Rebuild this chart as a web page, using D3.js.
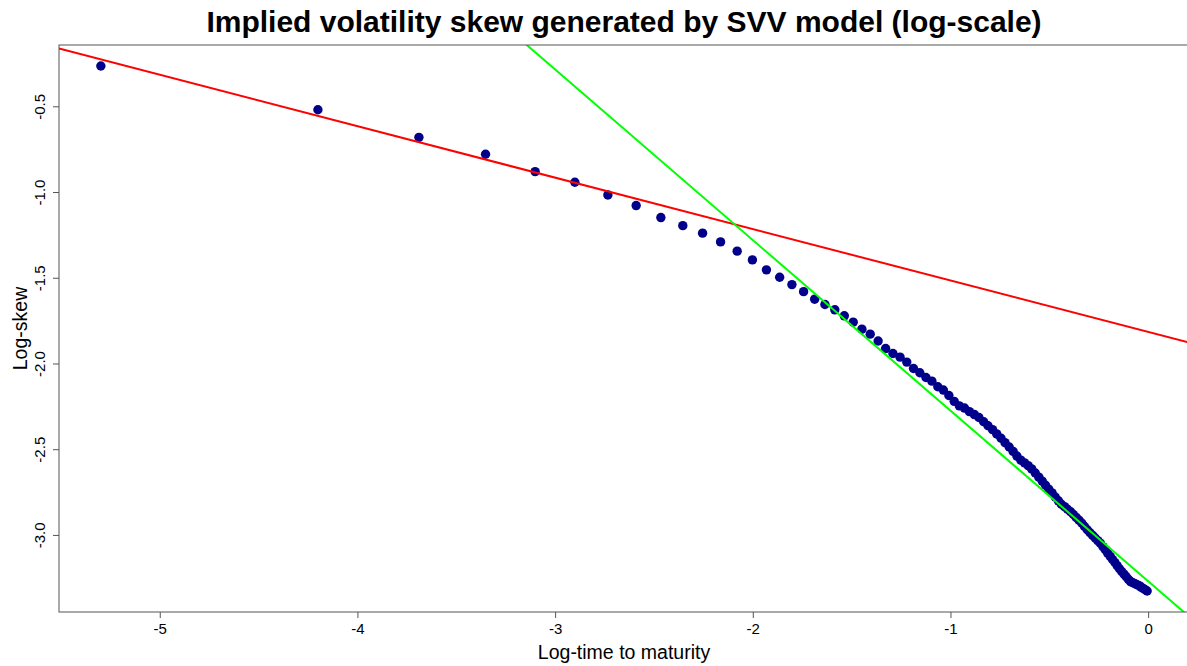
<!DOCTYPE html>
<html>
<head>
<meta charset="utf-8">
<script src="https://cdn.jsdelivr.net/npm/d3@7"></script>
<style>
  body { margin: 0; background: #fff; }
  svg { display: block; font-family: "Liberation Sans", Arial, sans-serif; }
</style>
</head>
<body>
<div id="chart"></div>
<script>
// chart data
const logTime = [
  -5.298, -4.200, -3.689, -3.352, -3.101, -2.900, -2.733, -2.590, -2.465, -2.354,
  -2.254, -2.163, -2.079, -2.002, -1.931, -1.864, -1.802, -1.743, -1.687, -1.635,
  -1.585, -1.537, -1.492, -1.448, -1.406, -1.366, -1.328, -1.291, -1.255, -1.221,
  -1.187, -1.155, -1.124, -1.094, -1.064, -1.036, -1.008, -0.981, -0.955, -0.929,
  -0.904, -0.879, -0.856, -0.832, -0.810, -0.787, -0.766, -0.744, -0.724, -0.703,
  -0.683, -0.664, -0.644, -0.625, -0.607, -0.589, -0.571, -0.553, -0.536, -0.519,
  -0.503, -0.486, -0.470, -0.454, -0.439, -0.423, -0.408, -0.393, -0.378, -0.364,
  -0.350, -0.335, -0.322, -0.308, -0.294, -0.281, -0.268, -0.255, -0.242, -0.229,
  -0.217, -0.205, -0.192, -0.180, -0.168, -0.157, -0.145, -0.134, -0.122, -0.111,
  -0.100, -0.089, -0.078, -0.067, -0.057, -0.046, -0.036, -0.025, -0.015, -0.005
];
const logSkew = [
  -0.265, -0.520, -0.681, -0.780, -0.881, -0.943, -1.017, -1.079, -1.149, -1.196,
  -1.240, -1.291, -1.345, -1.396, -1.454, -1.497, -1.540, -1.581, -1.625, -1.656,
  -1.687, -1.722, -1.759, -1.800, -1.829, -1.869, -1.913, -1.942, -1.963, -1.992,
  -2.029, -2.054, -2.082, -2.103, -2.136, -2.155, -2.187, -2.221, -2.247, -2.260,
  -2.281, -2.298, -2.315, -2.340, -2.363, -2.386, -2.411, -2.436, -2.462, -2.487,
  -2.513, -2.540, -2.564, -2.580, -2.596, -2.615, -2.639, -2.663, -2.686, -2.710,
  -2.733, -2.755, -2.779, -2.801, -2.821, -2.835, -2.850, -2.864, -2.881, -2.898,
  -2.914, -2.932, -2.951, -2.970, -2.987, -3.003, -3.018, -3.033, -3.048, -3.068,
  -3.086, -3.106, -3.125, -3.143, -3.161, -3.179, -3.197, -3.213, -3.229, -3.244,
  -3.259, -3.272, -3.278, -3.284, -3.290, -3.296, -3.304, -3.312, -3.320, -3.327
];
// fitted lines: [intercept, slope]
const shortFit = [-1.816, -0.300];
const longFit = [-3.270, -0.995];
const xTicks = [-5, -4, -3, -2, -1, 0];
const yTicks = [-0.5, -1.0, -1.5, -2.0, -2.5, -3.0];

const width = 1187;
const height = 666;
const margin = { top: 45, left: 59 };
const plotRight = 1189;
const plotBottom = 612;

const points = logTime.map((t, i) => ({ x: t, y: logSkew[i] }));

// R-style 4% padding on the data range
function pad(ext) {
  const d = (ext[1] - ext[0]) * 0.04;
  return [ext[0] - d, ext[1] + d];
}

const x = d3.scaleLinear()
  .domain(pad(d3.extent(logTime)))
  .range([margin.left, plotRight]);

const y = d3.scaleLinear()
  .domain(pad(d3.extent(logSkew)))
  .range([plotBottom, margin.top]);

const svg = d3.select("#chart")
  .append("svg")
  .attr("width", width)
  .attr("height", height);

svg.append("rect")
  .attr("width", width)
  .attr("height", height)
  .attr("fill", "#fff");

svg.append("defs").append("clipPath")
  .attr("id", "plot-clip")
  .append("rect")
  .attr("x", margin.left)
  .attr("y", margin.top)
  .attr("width", plotRight - margin.left)
  .attr("height", plotBottom - margin.top);

// points
svg.append("g")
  .attr("clip-path", "url(#plot-clip)")
  .selectAll("circle")
  .data(points)
  .enter().append("circle")
  .attr("cx", d => x(d.x))
  .attr("cy", d => y(d.y))
  .attr("r", 4.7)
  .attr("fill", "#00008B");

// abline-style fitted lines
const lines = svg.append("g").attr("clip-path", "url(#plot-clip)");
[[shortFit, "#FF0000"], [longFit, "#00FF00"]].forEach(([fit, col]) => {
  const [x0, x1] = x.domain();
  lines.append("line")
    .attr("x1", x(x0))
    .attr("y1", y(fit[0] + fit[1] * x0))
    .attr("x2", x(x1))
    .attr("y2", y(fit[0] + fit[1] * x1))
    .attr("stroke", col)
    .attr("stroke-width", 2);
});

// box
svg.append("rect")
  .attr("x", margin.left)
  .attr("y", margin.top)
  .attr("width", plotRight - margin.left)
  .attr("height", plotBottom - margin.top)
  .attr("fill", "none")
  .attr("stroke", "#555")
  .attr("stroke-width", 1);

// plain hyphen minus like R
const xFmt = d => String(d);
const yFmt = d => d.toFixed(1);

// x axis
const xAxis = svg.append("g")
  .attr("transform", `translate(0,${plotBottom})`)
  .call(d3.axisBottom(x).tickValues(xTicks).tickSize(6).tickPadding(5).tickFormat(xFmt));
xAxis.select(".domain").remove();
xAxis.selectAll("line").attr("stroke", "#555");
xAxis.selectAll("text")
  .attr("font-size", "15px")
  .attr("fill", "#000")
  .attr("font-family", "Liberation Sans, Arial, sans-serif");

// y axis with rotated labels
const yAxis = svg.append("g")
  .attr("transform", `translate(${margin.left},0)`)
  .call(d3.axisLeft(y).tickValues(yTicks).tickSize(6).tickFormat(yFmt));
yAxis.select(".domain").remove();
yAxis.selectAll("line").attr("stroke", "#555");
yAxis.selectAll("text")
  .attr("x", null)
  .attr("dy", null)
  .attr("text-anchor", "middle")
  .attr("transform", "translate(-14,0) rotate(-90)")
  .attr("font-size", "15px")
  .attr("fill", "#000")
  .attr("font-family", "Liberation Sans, Arial, sans-serif");

// title and axis labels
svg.append("text")
  .attr("x", (margin.left + plotRight) / 2)
  .attr("y", 32)
  .attr("text-anchor", "middle")
  .attr("font-size", "30px")
  .attr("font-weight", "bold")
  .text("Implied volatility skew generated by SVV model (log-scale)");

svg.append("text")
  .attr("x", (margin.left + plotRight) / 2)
  .attr("y", 659)
  .attr("text-anchor", "middle")
  .attr("font-size", "19.5px")
  .text("Log-time to maturity");

svg.append("text")
  .attr("transform", `translate(27,${(margin.top + plotBottom) / 2}) rotate(-90)`)
  .attr("text-anchor", "middle")
  .attr("font-size", "19.5px")
  .text("Log-skew");
</script>
</body>
</html>
